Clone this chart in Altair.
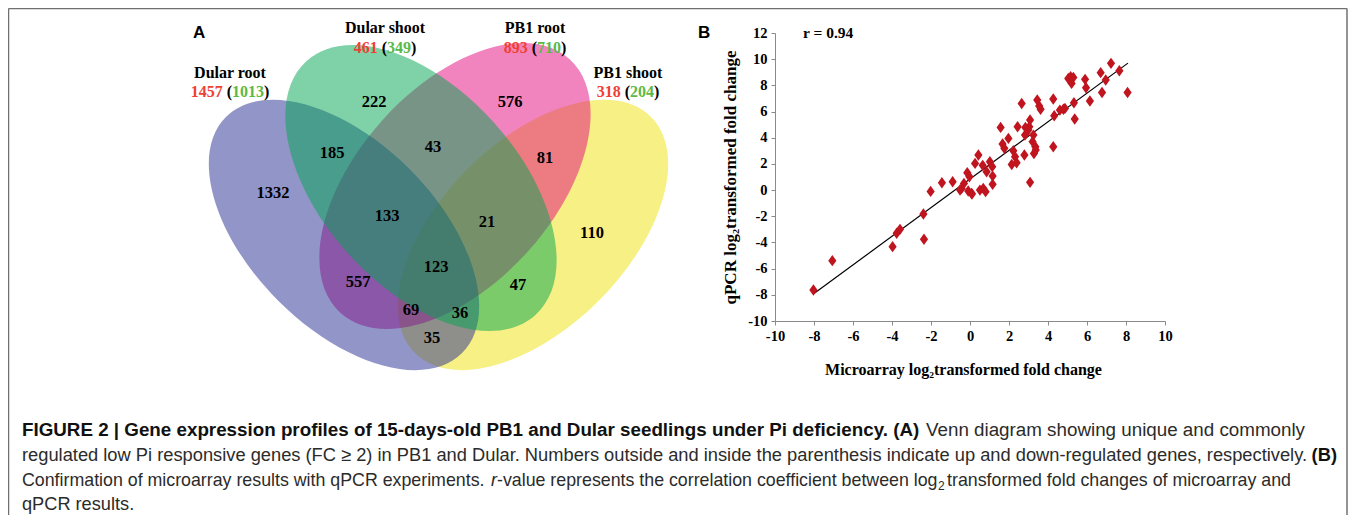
import altair as alt
import pandas as pd

W, H = 1341, 507          # canvas size (page has an 8px margin)
OX, OY = 8, 8

# ---------------- Panel A: Venn diagram ----------------
# draw order: PB1 shoot, PB1 root, Dular root, Dular shoot
set_names = ["PB1 shoot", "PB1 root", "Dular root", "Dular shoot"]
set_up = [318, 893, 1457, 461]
set_down = [204, 710, 1013, 349]
set_colors = ["#EFE20C", "#E3087F", "#252B91", "#00A650"]
# ellipse layout (page px): centre, semi-axes, clockwise rotation
ell_cx = [533, 455, 344, 421]
ell_cy = [235, 186, 235, 188]
ell_a = [167, 171, 167, 171]
ell_b = [93, 98, 93, 98]
ell_rot = [315, 312, 45, 48]
# category label layout (centre x, baseline of name, baseline of counts)
lab_x = [628, 535, 230, 385]
lab_name_y = [78, 33, 78, 33]
lab_cnt_y = [97, 53, 97, 53]

region_counts = [222, 576, 185, 43, 81, 1332, 133, 21, 110, 123, 557, 47, 69, 36, 35]
region_x = [374, 510, 332, 433, 545, 273, 387, 487, 592, 436, 358, 518, 411, 460, 432]
region_y = [102, 102, 153, 147, 158, 193, 216, 222, 233, 267, 282, 285, 310, 313, 338]

# ---------------- Panel B: scatter ----------------
micro = [7.23, 7.66, 6.70, 6.96, 8.08, 6.77, 6.15, 5.90, 5.95, 5.04, 5.16, 5.30, 5.21,
         5.33, 5.37, 4.79, 4.61, 4.32, 4.87, 4.27, 4.27, 3.45, 3.55, 3.62, 2.65, 3.08,
         3.04, 2.84, 2.44, 1.57, 2.82, 3.25, 3.35, 3.28, 2.79, 1.97, 1.67, 1.76, 2.22,
         2.31, 2.14, 2.39, 3.08, 0.43, 0.26, 0.65, 1.02, 1.14, 0.85, 1.16, 1.16, -0.14,
         -0.03, -0.31, -0.43, -0.09, 0.08, 0.51, 0.68, 0.80, -0.89, -1.44, -2.02, -8.03,
         -7.06, -3.97, -3.76, -3.59, -2.39, -2.36, -0.51, 0.10, 2.99, 3.21, 3.37]
qpcr = [9.68, 9.12, 8.97, 8.41, 7.46, 7.46, 6.80, 8.46, 7.82, 8.53, 8.66, 8.61, 8.15,
        6.67, 5.43, 6.17, 6.11, 5.68, 6.24, 6.96, 3.31, 6.88, 6.42, 6.17, 6.62, 5.35,
        4.84, 4.79, 4.84, 4.79, 4.20, 4.20, 3.31, 2.80, 2.68, 3.95, 3.52, 3.19, 3.01,
        2.55, 1.96, 2.09, 0.59, 2.68, 2.04, 1.89, 2.17, 1.79, 1.40, 1.07, 0.44, 1.33,
        1.02, 0.51, 0.13, -0.07, -0.25, 0.00, 0.13, -0.12, 0.64, 0.56, -0.10, -7.63,
        -5.39, -4.32, -3.30, -3.00, -1.83, -3.76, 0.01, -0.30, 4.59, 3.70, 3.06]
fit_x = [-8.0, 8.1]
fit_y = [-7.9, 9.7]
x_ticks = list(range(-10, 11, 2))
y_ticks = list(range(-10, 13, 2))
r_text = "r = 0.94"

# ---------------- caption ----------------
cap_frags = [
    # text, x, baseline y, style, font size
    ("FIGURE 2 | Gene expression profiles of 15-days-old PB1 and Dular seedlings under Pi deficiency. (A)", 22, 436, "bold_left", 18.8),
    ("Venn diagram showing unique and commonly", 1305, 436, "reg_right", 18.8),
    ("regulated low Pi responsive genes (FC \u2265 2) in PB1 and Dular. Numbers outside and inside the parenthesis indicate up and down-regulated genes, respectively.", 22, 461, "reg_left", 18.3),
    ("(B)", 1337, 461, "bold_right", 18.3),
    ("Confirmation of microarray results with qPCR experiments.", 22, 486, "reg_left", 17.8),
    ("r", 491, 486, "italic", 17.8),
    ("-value represents the correlation coefficient between log", 497, 486, "reg_left", 17.8),
    ("2", 938, 490, "reg_left", 12),
    ("transformed fold changes of microarray and", 1291, 486, "reg_right", 17.8),
    ("qPCR results.", 22, 510, "reg_left", 18.2),
]

SERIF = "Liberation Serif"
SANS = "Liberation Sans"
px = alt.Scale(domain=[OX, OX + W], range=[0, W], nice=False, zero=False)
py = alt.Scale(domain=[OY, OY + H], range=[0, H], nice=False, zero=False)


def ellipse_path(r):
    k = 0.5523
    return (f"M-1,0 C-1,{-k*r:.4f} {-k:.4f},{-r:.4f} 0,{-r:.4f} "
            f"C{k:.4f},{-r:.4f} 1,{-k*r:.4f} 1,0 "
            f"C1,{k*r:.4f} {k:.4f},{r:.4f} 0,{r:.4f} "
            f"C{-k:.4f},{r:.4f} -1,{k*r:.4f} -1,0 Z")


ell_df = pd.DataFrame({
    "name": set_names, "cx": ell_cx, "cy": ell_cy,
    "sz": [(2 * a) ** 2 for a in ell_a], "rot": ell_rot, "col": set_colors,
    "order": list(range(4)),
})
paths = [ellipse_path(b / a) for a, b in zip(ell_a, ell_b)]

venn = alt.Chart(ell_df).mark_point(filled=True, opacity=0.5, strokeWidth=0).encode(
    x=alt.X("cx:Q", scale=px, axis=None),
    y=alt.Y("cy:Q", scale=py, axis=None),
    shape=alt.Shape("name:N", scale=alt.Scale(domain=set_names, range=paths), legend=None),
    size=alt.Size("sz:Q", scale=None, legend=None),
    angle=alt.Angle("rot:Q", scale=None),
    color=alt.Color("col:N", scale=None),
    order=alt.Order("order:Q"),
)


def text_layer(df, color="black", **kw):
    return alt.Chart(df).mark_text(color=color, **kw).encode(
        x=alt.X("x:Q", scale=px, axis=None),
        y=alt.Y("y:Q", scale=py, axis=None),
        text="t:N",
    )


reg_df = pd.DataFrame({"t": [str(v) for v in region_counts], "x": region_x, "y": region_y})
regions = text_layer(reg_df, font=SERIF, fontWeight="bold", fontSize=16.5, baseline="middle", align="center")

names_df = pd.DataFrame({"t": set_names, "x": lab_x, "y": lab_name_y})
names = text_layer(names_df, font=SERIF, fontWeight="bold", fontSize=16, baseline="alphabetic", align="center")

# counts "up (down)" built from Liberation Serif bold metrics
FS = 16
up_rows, down_rows, lp_rows, rp_rows = [], [], [], []
for u, d, cx, cy in zip(set_up, set_down, lab_x, lab_cnt_y):
    su, sd = str(u), str(d)
    w = (len(su) * 0.5 + 0.25 + 0.333 + len(sd) * 0.5 + 0.333) * FS
    x0 = cx - w / 2
    xl = x0 + (len(su) * 0.5 + 0.25) * FS
    xd = xl + 0.333 * FS
    xr = xd + len(sd) * 0.5 * FS
    up_rows.append({"t": su, "x": x0, "y": cy})
    lp_rows.append({"t": "(", "x": xl, "y": cy})
    down_rows.append({"t": sd, "x": xd, "y": cy})
    rp_rows.append({"t": ")", "x": xr, "y": cy})
cnt_kw = dict(font=SERIF, fontWeight="bold", fontSize=FS, baseline="alphabetic", align="left")
up_l = text_layer(pd.DataFrame(up_rows), color="#EF4133", **cnt_kw)
down_l = text_layer(pd.DataFrame(down_rows), color="#5CB946", **cnt_kw)
par_l = text_layer(pd.DataFrame(lp_rows + rp_rows), color="black", **cnt_kw)

panel_df = pd.DataFrame({"t": ["A", "B"], "x": [193, 698], "y": [38, 38]})
panels = text_layer(panel_df, font=SANS, fontWeight="bold", fontSize=17, align="left", baseline="alphabetic")

# frame
frame_df = pd.DataFrame({"x": [OX + 0.5, OX + 0.5, W + OX - 2], "y": [OY + 0.5] * 3,
                         "x2": [W + OX - 2, OX + 0.5, W + OX - 2], "y2": [OY + 0.5, OY + H, OY + H]})
frame = alt.Chart(frame_df).mark_rule(color="#707070", strokeWidth=1.5).encode(
    x=alt.X("x:Q", scale=px, axis=None), x2="x2:Q",
    y=alt.Y("y:Q", scale=py, axis=None), y2="y2:Q")

# scatter
xs = alt.Scale(domain=[-10, 10], range=[775 - OX, 1165 - OX], nice=False, zero=False)
ys = alt.Scale(domain=[-10, 12], range=[321 - OY, 33 - OY], nice=False, zero=False)
pts_df = pd.DataFrame({"mx": micro, "qy": qpcr})
axis_common = dict(grid=False, domainColor="#8a8a8a", tickColor="#8a8a8a", tickSize=4,
                   labelFont=SERIF, labelFontWeight="bold", labelFontSize=14.5, labelColor="black",
                   labelOverlap=False, labelExpr="'' + datum.value",
                   titleFont=SERIF, titleFontWeight="bold", titleColor="black")
diamond = "M0,-1L0.72,0L0,1L-0.72,0Z"
points = alt.Chart(pts_df).mark_point(shape=diamond, filled=True, size=130, color="#C0141F", opacity=1).encode(
    x=alt.X("mx:Q", scale=xs, axis=alt.Axis(values=x_ticks, offset=(321 - OY) - H, labelFlush=False,
                                            title="Microarray log\u2082transformed fold change",
                                            titleFontSize=16, titlePadding=19, labelPadding=4,
                                            titleX=963 - OX, **axis_common)),
    y=alt.Y("qy:Q", scale=ys, axis=alt.Axis(values=y_ticks, offset=-(775 - OX), labelFlush=False,
                                            title="qPCR   log\u2082transformed fold change",
                                            titleFontSize=17, titlePadding=8, labelPadding=4,
                                            **axis_common)),
)
fit_df = pd.DataFrame({"mx": fit_x, "qy": fit_y})
fit = alt.Chart(fit_df).mark_line(color="black", strokeWidth=1.2).encode(
    x=alt.X("mx:Q", scale=xs, axis=None), y=alt.Y("qy:Q", scale=ys, axis=None))
r_df = pd.DataFrame({"t": [r_text], "x": [803], "y": [38]})
r_lab = text_layer(r_df, font=SERIF, fontWeight="bold", fontSize=15.5, align="left", baseline="alphabetic")

# caption layers (one per fragment)
style_kw = {
    "bold_left": dict(fontWeight="bold", align="left", color="#111"),
    "bold_right": dict(fontWeight="bold", align="right", color="#111"),
    "reg_left": dict(fontWeight="normal", align="left", color="#2b2b2b"),
    "reg_right": dict(fontWeight="normal", align="right", color="#2b2b2b"),
    "italic": dict(fontWeight="normal", fontStyle="italic", align="left", color="#2b2b2b"),
}
cap_layers = []
for t, x, y, st, fs in cap_frags:
    cap_layers.append(text_layer(pd.DataFrame({"t": [t], "x": [x], "y": [y]}), font=SANS,
                                 baseline="alphabetic", fontSize=fs, **style_kw[st]))

chart = alt.layer(
    frame, venn, regions, names, up_l, down_l, par_l, panels,
    fit, points, r_lab, *cap_layers
).resolve_scale(x="independent", y="independent").properties(
    width=W, height=H, autosize=alt.AutoSizeParams(type="none"), padding=0
).configure_view(stroke=None)

chart.save("out.html", embed_options={"renderer": "svg", "actions": False})
